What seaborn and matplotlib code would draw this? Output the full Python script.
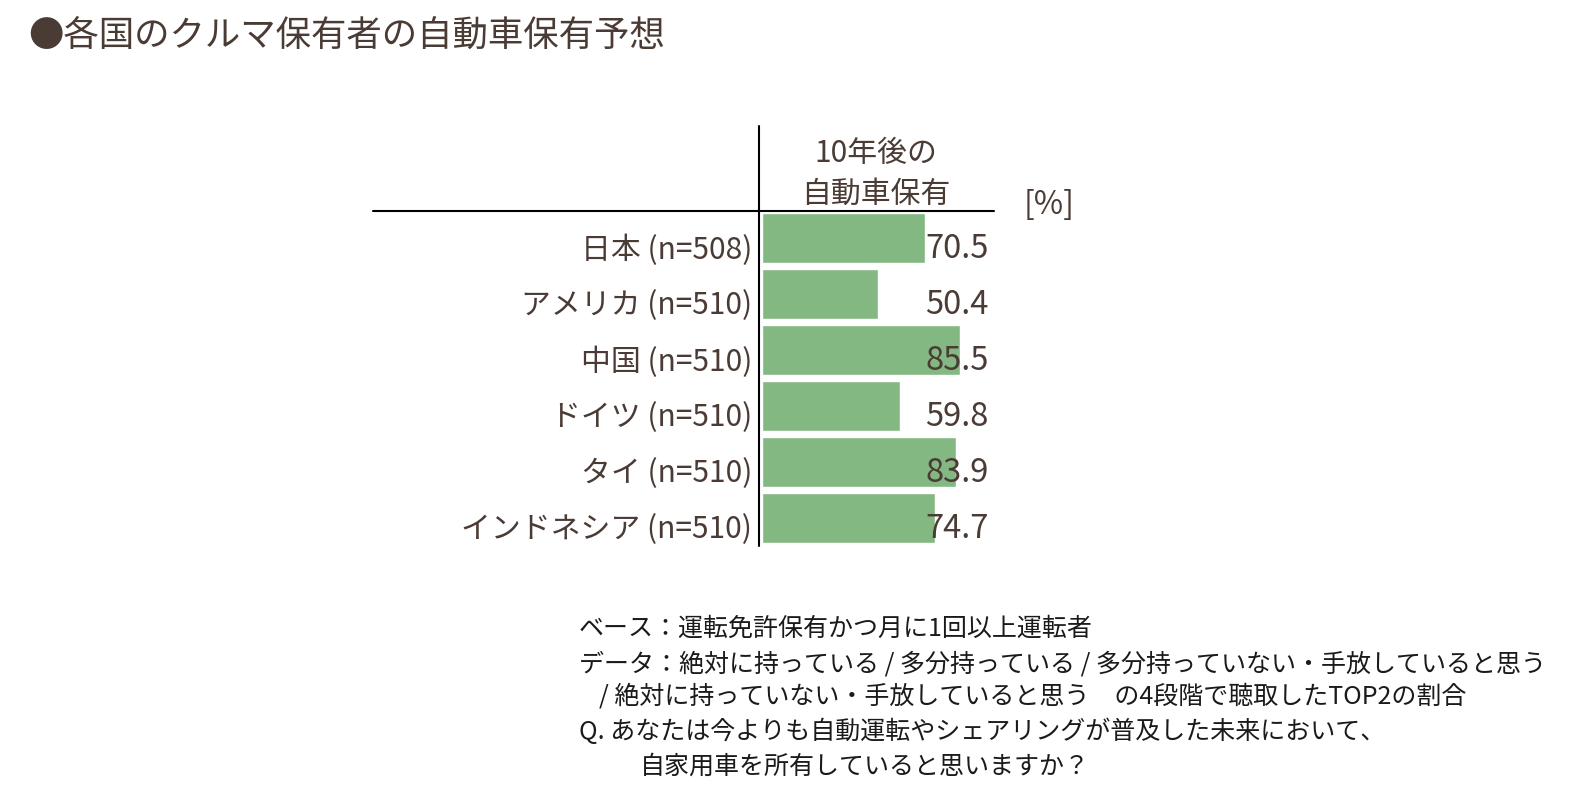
import matplotlib
matplotlib.use("Agg")
import matplotlib.pyplot as plt
from matplotlib.lines import Line2D
from matplotlib.transforms import ScaledTranslation
import seaborn as sns
import pandas as pd

# ---- data ----
countries = ["日本 (n=508)", "アメリカ (n=510)", "中国 (n=510)", "ドイツ (n=510)", "タイ (n=510)", "インドネシア (n=510)"]
values = [70.5, 50.4, 85.5, 59.8, 83.9, 74.7]
title = "●各国のクルマ保有者の自動車保有予想"
header = "10年後の\n自動車保有"
unit = "[%]"
notes = [
    "ベース：運転免許保有かつ月に1回以上運転者",
    "データ：絶対に持っている / 多分持っている / 多分持っていない・手放していると思う",
    "/ 絶対に持っていない・手放していると思う　の4段階で聴取したTOP2の割合",
    "Q. あなたは今よりも自動運転やシェアリングが普及した未来において、",
    "自家用車を所有していると思いますか？",
]

W, H = 1578, 801
TXT = "#4A3B35"
BAR = "#84B883"

sns.set_theme(style="white")
plt.rcParams["font.family"] = ["Noto Sans CJK JP", "DejaVu Sans"]

fig = plt.figure(figsize=(W / 100, H / 100), dpi=100)
fig.patch.set_facecolor("white")

def fx(px):
    return px / W

def fy(py):
    return 1 - py / H

ax = fig.add_axes([fx(762), fy(546), fx(993) - fx(762), fy(210) - fy(546)])
df = pd.DataFrame({"country": countries, "value": values})
sns.barplot(data=df, x="value", y="country", color=BAR, saturation=1, width=0.88, ax=ax)
ax.set_xlim(0, 100)
ax.set_ylim(len(countries) - 0.5, -0.5)
for s in ax.spines.values():
    s.set_visible(False)
ax.set_xticks([])
ax.set_xlabel("")
ax.set_ylabel("")
ax.tick_params(axis="y", length=0, pad=7, labelsize=21.5, labelcolor=TXT)
ax.set_facecolor("none")
down = ScaledTranslation(0, -6 / 72, fig.dpi_scale_trans)
for lab in ax.get_yticklabels():
    lab.set_transform(lab.get_transform() + down)

# value labels (right-aligned)
vdown = ScaledTranslation(0, -8 / 72, fig.dpi_scale_trans)
for i, v in enumerate(values):
    ax.text(0.982, i, f"{v:.1f}", transform=ax.get_yaxis_transform() + vdown, ha="right", va="center",
            fontsize=23.5, color=TXT)

# frame lines
fig.add_artist(Line2D([fx(759), fx(759)], [fy(126), fy(546)], color="black", lw=1.5))
fig.add_artist(Line2D([fx(373), fx(994)], [fy(211), fy(211)], color="black", lw=1.5))

# header
fig.text(fx(876), fy(174), header, ha="center", va="center", fontsize=21.5, color=TXT, linespacing=1.4)
fig.text(fx(1049), fy(205), unit, ha="center", va="center", fontsize=23, color=TXT)

# title
fig.text(fx(28), fy(36), title, ha="left", va="center", fontsize=25.5, color=TXT)

# notes
ys = [629, 664, 697, 732, 767]
xs = [579, 579, 599, 579, 640]
for t, xx, yy in zip(notes, xs, ys):
    fig.text(fx(xx), fy(yy), t, ha="left", va="center", fontsize=18, color="#1a1a1a")

fig.savefig("out.png", dpi=100, facecolor="white")
